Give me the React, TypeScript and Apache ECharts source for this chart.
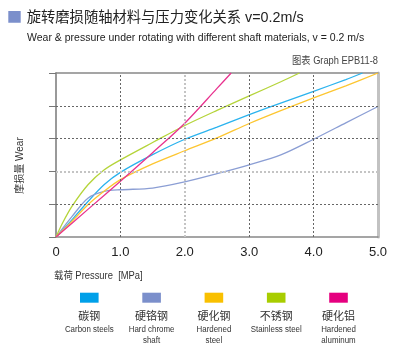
import React, { useEffect, useRef } from "react";
import * as echarts from "echarts";

// [pressure MPa, wear (relative units)]
const carbonSteel: [number, number][] = [[0,0],[0.25,0.53],[0.5,1.09],[0.75,1.6],[1,1.97],[1.5,2.51],[2,2.98],[2.5,3.35],[3,3.73],[3.5,4.09],[4,4.44],[4.5,4.8],[4.76,5]];
const hardChrome: [number, number][] = [[0,0],[0.25,0.63],[0.5,1.19],[0.75,1.39],[1,1.44],[1.5,1.49],[2,1.68],[2.5,1.93],[3,2.2],[3.5,2.51],[4,2.98],[4.5,3.48],[5,3.98]];
const hardenedSteel: [number, number][] = [[0,0],[0.25,0.48],[0.5,0.99],[0.75,1.4],[1,1.75],[1.5,2.23],[2,2.63],[2.5,3.02],[3,3.46],[3.5,3.86],[4,4.24],[4.5,4.61],[5,5]];
const stainlessSteel: [number, number][] = [[0,0],[0.1,0.42],[0.25,0.94],[0.5,1.6],[0.75,2.05],[1,2.35],[1.5,2.88],[2,3.4],[2.5,3.86],[3,4.3],[3.5,4.74],[3.78,5]];
const hardenedAluminum: [number, number][] = [[0,0],[0.5,0.85],[1,1.7],[1.5,2.57],[2,3.47],[2.5,4.53],[2.72,5]];

const seriesData = [carbonSteel, hardChrome, hardenedSteel, stainlessSteel, hardenedAluminum];
const namesCn = ["碳钢", "硬铬钢", "硬化钢", "不锈钢", "硬化铝"];
const namesEn = ["Carbon steels", "Hard chrome\nshaft", "Hardened\nsteel", "Stainless steel", "Hardened\naluminum"];
const lineColors = ["#2bb3ee", "#8b9ed4", "#fdc631", "#b5d43a", "#e8338f"];
const swatchColors = ["#00a0e9", "#7b8fcb", "#f9c000", "#a8cd00", "#e5007f"];
const gridX = [1, 2, 3, 4];
const gridY = [1, 2, 3, 4];
const lightGrid = 2;

const LATIN = "'Liberation Sans', Arial, 'Noto Sans CJK SC', sans-serif";

export default function App() {
  const ref = useRef<HTMLDivElement>(null);
  useEffect(() => {
    if (!ref.current) return;
    const chart = echarts.init(ref.current, null, { renderer: "svg" });

    const legendGraphics: any[] = [];
    const legendStart = 89.3;
    const legendStep = 62.3;
    namesCn.forEach((cn, i) => {
      const cx = legendStart + i * legendStep;
      legendGraphics.push({
        type: "rect",
        shape: { x: cx - 9.3, y: 292.7, width: 18.6, height: 10 },
        style: { fill: swatchColors[i] },
      });
      legendGraphics.push({
        type: "text",
        x: cx,
        y: 316,
        style: { text: cn, font: `11px ${LATIN}`, fill: "#333", align: "center", verticalAlign: "middle" },
      });
      legendGraphics.push({
        type: "text",
        x: cx,
        y: 323.5,
        scaleX: 0.88,
        style: { text: namesEn[i], font: `9px ${LATIN}`, fill: "#333", align: "center", verticalAlign: "top", lineHeight: 10.6 },
      });
    });

    const darkStyle = { color: "#666", type: [2, 2], width: 1 };
    const lightStyle = { color: "#c4c4c4", type: [2, 2], width: 2 };
    const gridLines = [
      ...gridX.map((v) => ({ xAxis: v, lineStyle: v === lightGrid ? lightStyle : darkStyle })),
      ...gridY.map((v) => ({ yAxis: v, lineStyle: v === lightGrid ? lightStyle : darkStyle })),
    ];

    const option: any = {
      animation: false,
      grid: { left: 56, right: 22, top: 73, bottom: 123 },
      xAxis: [
        {
          type: "value",
          min: 0,
          max: 5,
          interval: 1,
          axisLine: { onZero: false, lineStyle: { color: "#888", width: 1.5 } },
          axisTick: { show: false },
          axisLabel: {
            formatter: (v: number) => (v === 0 ? "0" : v.toFixed(1)),
            color: "#222",
            fontSize: 13,
            fontFamily: LATIN,
            margin: 8,
          },
          splitLine: { show: false },
        },
        {
          type: "value",
          position: "top",
          min: 0,
          max: 5,
          interval: 1,
          axisLine: { show: true, onZero: false, lineStyle: { color: "#888", width: 1.5 } },
          axisTick: { show: false },
          axisLabel: { show: false },
          splitLine: { show: false },
        },
      ],
      yAxis: [
        {
          type: "value",
          min: 0,
          max: 5,
          interval: 1,
          axisLine: { show: true, onZero: false, lineStyle: { color: "#777", width: 1.5 } },
          axisTick: { show: true, length: 7, lineStyle: { color: "#777" } },
          axisLabel: { show: false },
          splitLine: { show: false },
        },
        {
          type: "value",
          position: "right",
          min: 0,
          max: 5,
          interval: 1,
          axisLine: { show: true, onZero: false, lineStyle: { color: "#c2c2c2", width: 3 } },
          axisTick: { show: false },
          axisLabel: { show: false },
          splitLine: { show: false },
        },
      ],
      series: [
        {
          name: "grid",
          type: "line",
          data: [],
          z: 1,
          markLine: {
            silent: true,
            symbol: ["none", "none"],
            label: { show: false },
            data: gridLines,
          },
        },
        ...seriesData.map((d, i) => ({
          name: namesCn[i],
          type: "line",
          data: d,
          smooth: 0.3,
          showSymbol: false,
          symbol: "none",
          lineStyle: { color: lineColors[i], width: 1.3 },
          z: 3,
        })),
      ],
      graphic: [
        { type: "rect", shape: { x: 8.3, y: 11, width: 12.4, height: 11.7 }, style: { fill: "#7b8fcb" } },
        {
          type: "text",
          x: 26.7,
          y: 16.5,
          style: { text: "旋转磨损随轴材料与压力变化关系 v=0.2m/s", font: `14.3px ${LATIN}`, fill: "#222", verticalAlign: "middle" },
        },
        {
          type: "text",
          x: 27,
          y: 36.7,
          scaleX: 0.955,
          style: {
            text: "Wear & pressure under rotating with different shaft materials, v = 0.2 m/s",
            font: `11px ${LATIN}`,
            fill: "#222",
            verticalAlign: "middle",
          },
        },
        {
          type: "text",
          x: 378,
          y: 60.5,
          scaleX: 0.93,
          style: { text: "图表 Graph EPB11-8", font: `10px ${LATIN}`, fill: "#444", align: "right", verticalAlign: "middle" },
        },
        {
          type: "text",
          x: 19,
          y: 165.5,
          rotation: Math.PI / 2,
          style: { text: "摩损量 Wear", font: `10px ${LATIN}`, fill: "#333", align: "center", verticalAlign: "middle" },
        },
        {
          type: "text",
          x: 54,
          y: 275.7,
          scaleX: 0.94,
          style: { text: "载荷 Pressure  [MPa]", font: `10px ${LATIN}`, fill: "#333", verticalAlign: "middle" },
        },
        ...legendGraphics,
      ],
    };
    chart.setOption(option);
    return () => chart.dispose();
  }, []);
  return <div ref={ref} style={{ position: "fixed", left: 0, top: 0, width: 400, height: 360 }} />;
}
